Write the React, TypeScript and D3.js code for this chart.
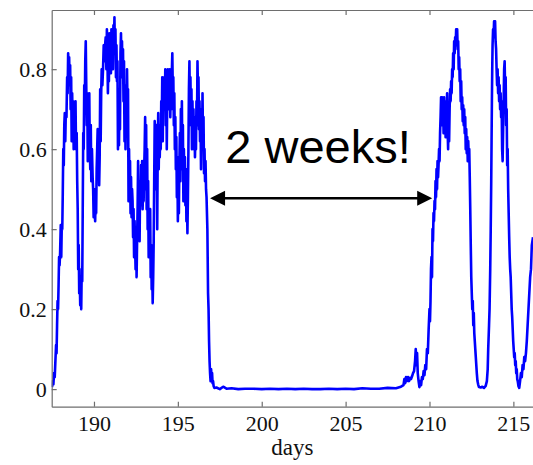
import React, { useRef, useEffect } from 'react'
import * as d3 from 'd3'

// activity before the break (day, level)
const burstA: [number, number][] = [
  [187.5, 0.005], [187.54, 0.02], [187.58, 0.012], [187.62, 0.04], [187.66, 0.03], [187.7, 0.07],
  [187.74, 0.11], [187.77, 0.09], [187.8, 0.16], [187.83, 0.22], [187.86, 0.2], [187.89, 0.26],
  [187.92, 0.33], [187.95, 0.31], [187.98, 0.34], [188.02, 0.41], [188.05, 0.33], [188.08, 0.41],
  [188.11, 0.4], [188.14, 0.49], [188.17, 0.6], [188.2, 0.56], [188.23, 0.66], [188.26, 0.69],
  [188.29, 0.62], [188.32, 0.69], [188.36, 0.68], [188.4, 0.78], [188.43, 0.74], [188.46, 0.84],
  [188.49, 0.8], [188.52, 0.83], [188.55, 0.76], [188.58, 0.81], [188.61, 0.7], [188.64, 0.78],
  [188.67, 0.62], [188.7, 0.74], [188.73, 0.66], [188.76, 0.72], [188.79, 0.6], [188.82, 0.7],
  [188.86, 0.66], [188.9, 0.72], [188.93, 0.6], [188.97, 0.64], [189.0, 0.52], [189.03, 0.45],
  [189.06, 0.3], [189.09, 0.36], [189.12, 0.24], [189.15, 0.28], [189.18, 0.21], [189.21, 0.26],
  [189.24, 0.2], [189.27, 0.3], [189.3, 0.27], [189.33, 0.45], [189.36, 0.64], [189.39, 0.6],
  [189.42, 0.76], [189.45, 0.7], [189.48, 0.82], [189.51, 0.87], [189.54, 0.76], [189.57, 0.66],
  [189.6, 0.74], [189.63, 0.57], [189.66, 0.64], [189.69, 0.58], [189.72, 0.74], [189.75, 0.6],
  [189.78, 0.55], [189.81, 0.66], [189.84, 0.52], [189.88, 0.6], [189.92, 0.53], [189.95, 0.5],
  [189.98, 0.43], [190.01, 0.5], [190.04, 0.45], [190.07, 0.42], [190.1, 0.48], [190.13, 0.44],
  [190.16, 0.55], [190.19, 0.6], [190.22, 0.65], [190.25, 0.56], [190.28, 0.64], [190.31, 0.51],
  [190.34, 0.58], [190.37, 0.75], [190.4, 0.62], [190.43, 0.74], [190.46, 0.8], [190.5, 0.76],
  [190.54, 0.8], [190.58, 0.86], [190.62, 0.82], [190.66, 0.86], [190.7, 0.88], [190.74, 0.8],
  [190.77, 0.9], [190.8, 0.84], [190.83, 0.74], [190.86, 0.82], [190.89, 0.77], [190.92, 0.89],
  [190.95, 0.8], [190.98, 0.86], [191.01, 0.79], [191.04, 0.9], [191.07, 0.83], [191.1, 0.88],
  [191.13, 0.8], [191.16, 0.91], [191.19, 0.86], [191.22, 0.93], [191.25, 0.84], [191.28, 0.9],
  [191.31, 0.78], [191.34, 0.86], [191.37, 0.77], [191.4, 0.82], [191.43, 0.6], [191.46, 0.75],
  [191.49, 0.61], [191.52, 0.7], [191.55, 0.65], [191.58, 0.84], [191.61, 0.89], [191.64, 0.8],
  [191.67, 0.87], [191.7, 0.78], [191.73, 0.85], [191.76, 0.72], [191.79, 0.82], [191.82, 0.62],
  [191.85, 0.76], [191.88, 0.6], [191.91, 0.72], [191.94, 0.66], [191.97, 0.8], [192.0, 0.7],
  [192.03, 0.75], [192.06, 0.47], [192.09, 0.6], [192.12, 0.5], [192.15, 0.57], [192.18, 0.44],
  [192.21, 0.53], [192.24, 0.43], [192.27, 0.5], [192.3, 0.47], [192.33, 0.38], [192.36, 0.45],
  [192.39, 0.33], [192.42, 0.42], [192.45, 0.36], [192.48, 0.3], [192.51, 0.4], [192.54, 0.28],
  [192.57, 0.37], [192.6, 0.45], [192.63, 0.57], [192.66, 0.42], [192.69, 0.5], [192.72, 0.37],
  [192.75, 0.52], [192.78, 0.46], [192.81, 0.56], [192.84, 0.48], [192.87, 0.57], [192.9, 0.45],
  [192.93, 0.52], [192.96, 0.47], [192.99, 0.55], [193.02, 0.6], [193.05, 0.68], [193.08, 0.5],
  [193.11, 0.66], [193.14, 0.45], [193.17, 0.6], [193.2, 0.4], [193.23, 0.52], [193.26, 0.33],
  [193.29, 0.44], [193.32, 0.38], [193.35, 0.45], [193.38, 0.28], [193.41, 0.36], [193.44, 0.25],
  [193.47, 0.3], [193.5, 0.215], [193.53, 0.28], [193.56, 0.37], [193.59, 0.52], [193.62, 0.67],
  [193.65, 0.5], [193.68, 0.62], [193.71, 0.55], [193.74, 0.66], [193.77, 0.4], [193.8, 0.6],
  [193.83, 0.69], [193.86, 0.55], [193.89, 0.66], [193.92, 0.58], [193.95, 0.64], [193.98, 0.6],
  [194.01, 0.72], [194.04, 0.66], [194.07, 0.78], [194.1, 0.62], [194.13, 0.76], [194.16, 0.7],
  [194.19, 0.78], [194.22, 0.7], [194.25, 0.8], [194.28, 0.66], [194.31, 0.78], [194.34, 0.6],
  [194.37, 0.74], [194.4, 0.8], [194.43, 0.7], [194.46, 0.78], [194.49, 0.72], [194.52, 0.8],
  [194.55, 0.68], [194.58, 0.76], [194.61, 0.7], [194.64, 0.79], [194.67, 0.84], [194.7, 0.74],
  [194.73, 0.78], [194.76, 0.66], [194.79, 0.74], [194.82, 0.6], [194.85, 0.68], [194.88, 0.55],
  [194.91, 0.63], [194.94, 0.48], [194.97, 0.58], [195.0, 0.42], [195.03, 0.5], [195.06, 0.44],
  [195.09, 0.56], [195.12, 0.64], [195.15, 0.52], [195.18, 0.7], [195.21, 0.6], [195.24, 0.72],
  [195.27, 0.55], [195.3, 0.66], [195.33, 0.47], [195.36, 0.6], [195.39, 0.5], [195.42, 0.58],
  [195.45, 0.46], [195.48, 0.55], [195.51, 0.42], [195.54, 0.5], [195.57, 0.39], [195.6, 0.48],
  [195.63, 0.6], [195.66, 0.75], [195.69, 0.82], [195.72, 0.7], [195.75, 0.78], [195.78, 0.66],
  [195.81, 0.75], [195.84, 0.6], [195.87, 0.72], [195.9, 0.62], [195.93, 0.7], [195.96, 0.6],
  [195.99, 0.68], [196.02, 0.58], [196.05, 0.65], [196.08, 0.6], [196.11, 0.72], [196.14, 0.66],
  [196.17, 0.82], [196.2, 0.74], [196.23, 0.78], [196.26, 0.65], [196.29, 0.72], [196.32, 0.62],
  [196.35, 0.7], [196.38, 0.55], [196.41, 0.66], [196.44, 0.6], [196.47, 0.74], [196.5, 0.62],
  [196.53, 0.68], [196.56, 0.54], [196.59, 0.6], [196.62, 0.52], [196.65, 0.57], [196.68, 0.5],
  [196.71, 0.48], [196.76, 0.4], [196.8, 0.24], [196.83, 0.2], [196.86, 0.12], [196.89, 0.07],
  [196.92, 0.04], [196.95, 0.02], [196.98, 0.05], [197.01, 0.03], [197.04, 0.04], [197.07, 0.015],
  [197.1, 0.02], [197.13, 0.008], [197.18, 0.003],
]

// the two quiet weeks
const quiet: [number, number][] = [
  [197.3, 0.004], [197.5, 0.0], [197.7, 0.006], [197.9, 0.001], [198.2, 0.002], [198.6, 0.0],
  [199.0, 0.001], [199.5, 0.001], [200.0, 0.0], [200.5, 0.001], [201.0, 0.0], [201.5, 0.001],
  [202.0, 0.0], [202.5, 0.001], [203.0, 0.0], [203.5, 0.0], [204.0, 0.001], [204.5, 0.0],
  [205.0, 0.001], [205.5, 0.0], [206.0, 0.002], [206.5, 0.001], [207.0, 0.001], [207.5, 0.003],
  [208.0, 0.002], [208.3, 0.006],
]

// activity after the break
const burstB: [number, number][] = [
  [208.45, 0.01], [208.5, 0.025], [208.55, 0.015], [208.6, 0.03], [208.66, 0.02], [208.72, 0.03],
  [208.78, 0.02], [208.84, 0.028], [208.9, 0.025], [208.96, 0.032], [209.02, 0.04], [209.08, 0.045],
  [209.14, 0.07], [209.18, 0.1], [209.22, 0.06], [209.26, 0.09], [209.3, 0.04], [209.35, 0.02],
  [209.4, 0.005], [209.45, 0.02], [209.5, 0.01], [209.55, 0.03], [209.6, 0.025], [209.65, 0.045],
  [209.7, 0.035], [209.75, 0.06], [209.8, 0.05], [209.85, 0.1], [209.9, 0.09], [209.95, 0.15],
  [210.0, 0.2], [210.03, 0.17], [210.06, 0.22], [210.09, 0.3], [210.12, 0.33], [210.15, 0.28],
  [210.18, 0.4], [210.21, 0.37], [210.24, 0.44], [210.27, 0.42], [210.3, 0.47], [210.33, 0.45],
  [210.36, 0.52], [210.39, 0.48], [210.42, 0.55], [210.45, 0.5], [210.48, 0.57], [210.51, 0.53],
  [210.54, 0.56], [210.57, 0.6], [210.6, 0.57], [210.63, 0.64], [210.66, 0.68], [210.69, 0.73],
  [210.72, 0.66], [210.75, 0.73], [210.78, 0.67], [210.81, 0.72], [210.84, 0.64], [210.87, 0.73],
  [210.9, 0.68], [210.93, 0.72], [210.96, 0.63], [210.99, 0.7], [211.02, 0.66], [211.05, 0.74],
  [211.08, 0.65], [211.11, 0.6], [211.14, 0.68], [211.17, 0.62], [211.2, 0.7], [211.23, 0.75],
  [211.26, 0.72], [211.29, 0.77], [211.32, 0.74], [211.35, 0.8], [211.38, 0.78], [211.41, 0.84],
  [211.44, 0.8], [211.47, 0.87], [211.5, 0.84], [211.53, 0.88], [211.56, 0.86], [211.59, 0.9],
  [211.62, 0.87], [211.65, 0.9], [211.68, 0.85], [211.71, 0.87], [211.74, 0.8], [211.77, 0.83],
  [211.8, 0.77], [211.83, 0.8], [211.86, 0.72], [211.89, 0.77], [211.92, 0.7], [211.95, 0.73],
  [211.98, 0.67], [212.01, 0.71], [212.04, 0.66], [212.07, 0.7], [212.1, 0.64], [212.13, 0.68],
  [212.16, 0.6], [212.19, 0.65], [212.22, 0.59], [212.25, 0.63], [212.28, 0.57], [212.31, 0.62],
  [212.34, 0.58], [212.37, 0.6], [212.4, 0.53], [212.43, 0.45], [212.46, 0.36], [212.49, 0.28],
  [212.52, 0.24], [212.55, 0.2], [212.58, 0.22], [212.61, 0.16], [212.64, 0.19], [212.67, 0.14],
  [212.7, 0.12], [212.73, 0.1], [212.76, 0.08], [212.79, 0.06], [212.82, 0.04], [212.86, 0.02],
  [212.9, 0.012], [212.95, 0.005], [213.05, 0.004], [213.15, 0.006], [213.25, 0.003], [213.35, 0.008],
  [213.42, 0.02], [213.47, 0.05], [213.5, 0.1], [213.55, 0.16], [213.58, 0.2], [213.62, 0.3],
  [213.65, 0.4], [213.68, 0.52], [213.7, 0.62], [213.72, 0.72], [213.74, 0.8], [213.76, 0.86],
  [213.79, 0.9], [213.82, 0.88], [213.85, 0.92], [213.88, 0.9], [213.91, 0.92], [213.94, 0.87],
  [213.97, 0.85], [214.0, 0.8], [214.03, 0.76], [214.06, 0.8], [214.09, 0.74], [214.12, 0.78],
  [214.15, 0.72], [214.18, 0.76], [214.21, 0.7], [214.24, 0.74], [214.27, 0.68], [214.3, 0.72],
  [214.33, 0.6], [214.36, 0.57], [214.39, 0.65], [214.42, 0.72], [214.45, 0.8], [214.48, 0.82],
  [214.51, 0.74], [214.54, 0.78], [214.57, 0.66], [214.6, 0.7], [214.63, 0.56], [214.66, 0.6],
  [214.69, 0.5], [214.72, 0.44], [214.75, 0.38], [214.78, 0.33], [214.81, 0.3], [214.84, 0.28],
  [214.87, 0.24], [214.9, 0.2], [214.93, 0.18], [214.96, 0.15], [214.99, 0.12], [215.02, 0.1],
  [215.05, 0.08], [215.08, 0.09], [215.11, 0.06], [215.14, 0.07], [215.17, 0.04], [215.2, 0.05],
  [215.23, 0.025], [215.26, 0.02], [215.3, 0.008], [215.35, 0.003], [215.4, 0.02], [215.45, 0.04],
  [215.5, 0.03], [215.55, 0.06], [215.6, 0.05], [215.65, 0.08], [215.7, 0.07], [215.75, 0.09],
  [215.8, 0.12], [215.85, 0.16], [215.9, 0.2], [215.95, 0.24], [216.0, 0.28], [216.05, 0.3],
  [216.1, 0.36], [216.17, 0.38],
]

const xTicks = [190, 195, 200, 205, 210, 215]
const yTicks = [0, 0.2, 0.4, 0.6, 0.8]
const xDomain: [number, number] = [187.48, 216.17]
const yDomain: [number, number] = [-0.044, 0.948]
const gap = { from: 196.92, to: 210.16, level: 0.477 }
const gapLabel = { text: '2 weeks!', day: 203.36, level: 0.566 }
const xLabel = 'days'

export default function App() {
  const svgRef = useRef<SVGSVGElement>(null)
  const width = 533
  const height = 465

  useEffect(() => {
    if (!svgRef.current) return
    const svg = d3.select(svgRef.current)
    svg.selectAll('*').remove()

    const m = { t: 10, r: 0, b: 58.3, l: 51.7 }
    const x = d3.scaleLinear().domain(xDomain).range([m.l, width - m.r])
    const y = d3.scaleLinear().domain(yDomain).range([height - m.b, m.t])
    const serif = '"Liberation Serif", "Times New Roman", serif'
    const axisColor = '#6e6e6e'

    svg.append('rect').attr('width', width).attr('height', height).attr('fill', '#fff')

    svg.append('clipPath').attr('id', 'plot-clip')
      .append('rect')
      .attr('x', m.l).attr('y', m.t)
      .attr('width', width - m.l - m.r).attr('height', height - m.t - m.b)

    const line = d3.line<[number, number]>().x(d => x(d[0])).y(d => y(d[1]))
    const series = [...burstA, ...quiet, ...burstB]
    svg.append('path')
      .datum(series)
      .attr('clip-path', 'url(#plot-clip)')
      .attr('d', line)
      .attr('fill', 'none')
      .attr('stroke', '#0000ff')
      .attr('stroke-width', 2.6)
      .attr('stroke-linejoin', 'round')

    const styleAxis = (g: d3.Selection<SVGGElement, unknown, null, undefined>) => {
      g.selectAll('path,line').attr('stroke', axisColor).attr('stroke-width', 1.2)
      g.selectAll('text').attr('font-family', serif).attr('font-size', 22).attr('fill', '#111')
    }

    const bottom = svg.append('g')
      .attr('transform', `translate(0,${y.range()[0]})`)
      .call(d3.axisBottom(x).tickValues(xTicks).tickSize(-5).tickSizeOuter(0).tickPadding(9)
        .tickFormat(d3.format('d')))
    styleAxis(bottom)

    const top = svg.append('g')
      .attr('transform', `translate(0,${m.t})`)
      .call(d3.axisTop(x).tickValues(xTicks).tickSize(-5).tickSizeOuter(0).tickFormat(() => ''))
    styleAxis(top)

    const left = svg.append('g')
      .attr('transform', `translate(${m.l},0)`)
      .call(d3.axisLeft(y).tickValues(yTicks).tickSize(-5).tickSizeOuter(0).tickPadding(5)
        .tickFormat(d => (+d === 0 ? '0' : d3.format('.1f')(+d))))
    styleAxis(left)

    svg.append('text')
      .attr('x', (m.l + width - m.r) / 2)
      .attr('y', 455)
      .attr('text-anchor', 'middle')
      .attr('font-family', serif)
      .attr('font-size', 23)
      .attr('fill', '#111')
      .text(xLabel)

    // double-headed arrow across the gap
    const x1 = x(gap.from)
    const x2 = x(gap.to)
    const ay = y(gap.level)
    const head = 15
    const half = 7.5
    svg.append('line')
      .attr('x1', x1 + head - 2).attr('x2', x2 - head + 2)
      .attr('y1', ay).attr('y2', ay)
      .attr('stroke', '#000').attr('stroke-width', 2.5)
    svg.append('path')
      .attr('d', `M${x1},${ay}L${x1 + head},${ay - half}L${x1 + head},${ay + half}Z`)
      .attr('fill', '#000')
    svg.append('path')
      .attr('d', `M${x2},${ay}L${x2 - head},${ay - half}L${x2 - head},${ay + half}Z`)
      .attr('fill', '#000')

    svg.append('text')
      .attr('x', x(gapLabel.day))
      .attr('y', y(gapLabel.level))
      .attr('text-anchor', 'middle')
      .attr('font-family', '"Liberation Sans", Arial, sans-serif')
      .attr('font-size', 47)
      .attr('fill', '#000')
      .text(gapLabel.text)
  }, [])

  return (
    <svg
      ref={svgRef}
      width={width}
      height={height}
      style={{ position: 'absolute', left: 0, top: 0, display: 'block' }}
    />
  )
}
